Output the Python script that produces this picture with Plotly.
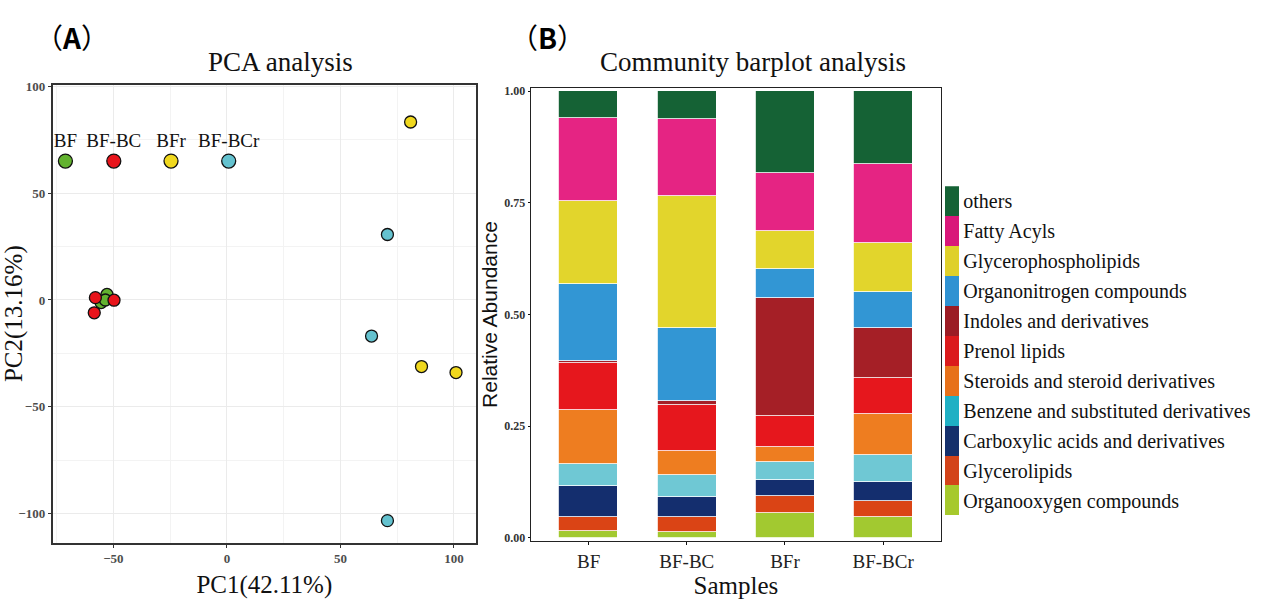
import plotly.graph_objects as go

W, H = 1266, 601

# ---------------- PCA data ----------------
groups = ["BF", "BF-BC", "BFr", "BF-BCr"]
group_colors = ["#62b22f", "#e8141b", "#f0d81e", "#64c2cf"]
pc1 = {
    "BF": [-52.8, -55.4, -53.5],
    "BF-BC": [-57.9, -58.4, -49.7],
    "BFr": [80.9, 85.7, 100.9],
    "BF-BCr": [70.7, 63.7, 70.7],
}
pc2 = {
    "BF": [2.6, -1.2, 0.0],
    "BF-BC": [1.1, -6.0, -0.1],
    "BFr": [83.4, -31.2, -34.0],
    "BF-BCr": [30.7, -16.9, -103.4],
}
key_pc1 = [-71.1, -49.8, -24.6, 0.8]
key_pc2 = [65.1, 65.1, 65.1, 65.1]

# ---------------- Barplot data ----------------
samples = ["BF", "BF-BC", "BFr", "BF-BCr"]
classes = [
    "others", "Fatty Acyls", "Glycerophospholipids", "Organonitrogen compounds",
    "Indoles and derivatives", "Prenol lipids", "Steroids and steroid derivatives",
    "Benzene and substituted derivatives", "Carboxylic acids and derivatives",
    "Glycerolipids", "Organooxygen compounds",
]
class_colors = [
    "#156235", "#e52483", "#e2d52c", "#3296d4", "#a51f26", "#e6171d",
    "#ee7d20", "#6fc8d4", "#142e6e", "#da4415", "#a2c930",
]
legend_colors = [
    "#156235", "#d9177a", "#dfd02a", "#2f92d2", "#9b1c24", "#db1a1c",
    "#e7711a", "#1fb0c4", "#15306b", "#d3441a", "#a6c92c",
]
abundance = {
    "others": [0.061, 0.063, 0.183, 0.164],
    "Fatty Acyls": [0.186, 0.173, 0.131, 0.176],
    "Glycerophospholipids": [0.185, 0.295, 0.085, 0.111],
    "Organonitrogen compounds": [0.172, 0.163, 0.064, 0.080],
    "Indoles and derivatives": [0.005, 0.009, 0.265, 0.111],
    "Prenol lipids": [0.105, 0.103, 0.069, 0.082],
    "Steroids and steroid derivatives": [0.122, 0.053, 0.033, 0.092],
    "Benzene and substituted derivatives": [0.048, 0.049, 0.040, 0.059],
    "Carboxylic acids and derivatives": [0.069, 0.045, 0.036, 0.042],
    "Glycerolipids": [0.032, 0.034, 0.039, 0.037],
    "Organooxygen compounds": [0.015, 0.013, 0.055, 0.046],
}

SERIF = "Liberation Serif"
SANS = "Liberation Sans"

fig = go.Figure()

# PCA points
for g, c in zip(groups, group_colors):
    fig.add_trace(go.Scatter(
        x=pc1[g], y=pc2[g], mode="markers", xaxis="x", yaxis="y",
        marker=dict(size=12, color=c, line=dict(color="#111", width=1.3)),
        showlegend=False, hoverinfo="skip",
    ))

# in-plot group key
fig.add_trace(go.Scatter(
    x=key_pc1, y=key_pc2, mode="markers+text", text=groups,
    textposition="top center", xaxis="x", yaxis="y",
    textfont=dict(family=SERIF, size=19, color="#111"),
    marker=dict(size=14, color=group_colors, line=dict(color="#111", width=1.3)),
    showlegend=False, hoverinfo="skip",
))

# stacked bars (bottom class first)
for cls, col in list(zip(classes, class_colors))[::-1]:
    fig.add_trace(go.Bar(
        x=samples, y=abundance[cls], name=cls, xaxis="x2", yaxis="y2",
        width=0.6, marker=dict(color=col, line=dict(color="white", width=0.8)),
        showlegend=False, hoverinfo="skip",
    ))

# custom legend as a single stacked column on its own axis
fig.add_trace(go.Bar(
    y=classes[::-1], x=[1] * len(classes), orientation="h", xaxis="x3", yaxis="y3",
    width=1.0, marker=dict(color=legend_colors[::-1], line=dict(width=0)),
    showlegend=False, hoverinfo="skip",
))

pca_x_dom = [52.7 / W, 476 / W]
pca_y_dom = [1 - 545.7 / H, 1 - 80 / H]
bar_x_dom = [530.7 / W, 941 / W]
bar_y_dom = [1 - 544 / H, 1 - 83.5 / H]

tickfont_pca = dict(family=SERIF, size=13, color="#4d4d4d", weight="bold")
tickfont_bar = dict(family=SERIF, size=12, color="#333", weight="bold")

fig.update_layout(
    width=W, height=H,
    margin=dict(l=0, r=0, t=0, b=0),
    paper_bgcolor="white", plot_bgcolor="white",
    barmode="stack",
    showlegend=False,
    xaxis=dict(
        domain=pca_x_dom, range=[-76.7, 109.7], anchor="y",
        tickmode="linear", tick0=0, dtick=50, tickfont=tickfont_pca,
        ticks="outside", ticklen=3, tickcolor="#333",
        showgrid=True, gridcolor="#ebebeb", gridwidth=1,
        minor=dict(dtick=25, tick0=0, showgrid=True, gridcolor="#f3f3f3", gridwidth=0.6),
        zeroline=False, showline=True, mirror=True, linecolor="#333", linewidth=1.8,
        title=dict(text="PC1(42.11%)", font=dict(family=SERIF, size=25, color="#111"), standoff=10),
    ),
    yaxis=dict(
        domain=pca_y_dom, range=[-113.7, 100.9], anchor="x",
        tickmode="linear", tick0=0, dtick=50, tickfont=tickfont_pca,
        ticks="outside", ticklen=3, tickcolor="#333",
        showgrid=True, gridcolor="#ebebeb", gridwidth=1,
        minor=dict(dtick=25, tick0=0, showgrid=True, gridcolor="#f3f3f3", gridwidth=0.6),
        zeroline=False, showline=True, mirror=True, linecolor="#333", linewidth=1.8,
        title=dict(text="PC2(13.16%)", font=dict(family=SERIF, size=25, color="#111"), standoff=0),
    ),
    xaxis2=dict(
        domain=bar_x_dom, range=[-0.59, 3.59], anchor="y2", type="category",
        tickfont=dict(family=SERIF, size=19, color="#222"),
        ticks="outside", ticklen=3, tickcolor="#111",
        showgrid=False, zeroline=False,
        showline=True, mirror=True, linecolor="#222", linewidth=1.2,
        title=dict(text="Samples", font=dict(family=SERIF, size=25, color="#111"), standoff=5),
    ),
    yaxis2=dict(
        domain=bar_y_dom, range=[-0.0073, 1.007], anchor="x2",
        tickvals=[0, 0.25, 0.5, 0.75, 1.0], ticktext=["0.00", "0.25", "0.50", "0.75", "1.00"],
        tickfont=tickfont_bar, ticks="outside", ticklen=2, tickcolor="#111",
        showgrid=False, zeroline=False,
        showline=True, mirror=True, linecolor="#222", linewidth=1.2,
        title=dict(text="Relative Abundance", font=dict(family=SANS, size=21, color="#111"), standoff=0),
    ),
    xaxis3=dict(
        domain=[945 / W, 959.3 / W], range=[0, 1], anchor="y3",
        visible=False, fixedrange=True,
    ),
    yaxis3=dict(
        domain=[1 - 518.3 / H, 1 - 183.3 / H], anchor="x3", side="right",
        type="category", showgrid=False, zeroline=False, showline=False,
        ticks="", ticklabelstandoff=3,
        tickfont=dict(family=SERIF, size=20, color="#111"),
    ),
    bargap=0,
)

annotations = [
    dict(text="PCA analysis", x=280 / W, y=1 - 57 / H, xref="paper", yref="paper",
         showarrow=False, font=dict(family=SERIF, size=27, color="#111"),
         xanchor="center", yanchor="middle"),
    dict(text="Community barplot analysis", x=753 / W, y=1 - 57 / H, xref="paper", yref="paper",
         showarrow=False, font=dict(family=SERIF, size=27, color="#111"),
         xanchor="center", yanchor="middle"),
    dict(text="（<b>A</b>）", x=72 / W, y=1 - 32 / H, xref="paper", yref="paper",
         showarrow=False, font=dict(family="Noto Sans CJK SC", size=28, color="#000"),
         xanchor="center", yanchor="middle"),
    dict(text="（<b>B</b>）", x=547 / W, y=1 - 32 / H, xref="paper", yref="paper",
         showarrow=False, font=dict(family="Noto Sans CJK SC", size=28, color="#000"),
         xanchor="center", yanchor="middle"),
]
fig.update_layout(annotations=annotations)

fig.write_html(
    "out.html",
    config={"displayModeBar": False},
    post_script="document.body.style.margin='0';document.body.style.overflow='hidden';",
)
